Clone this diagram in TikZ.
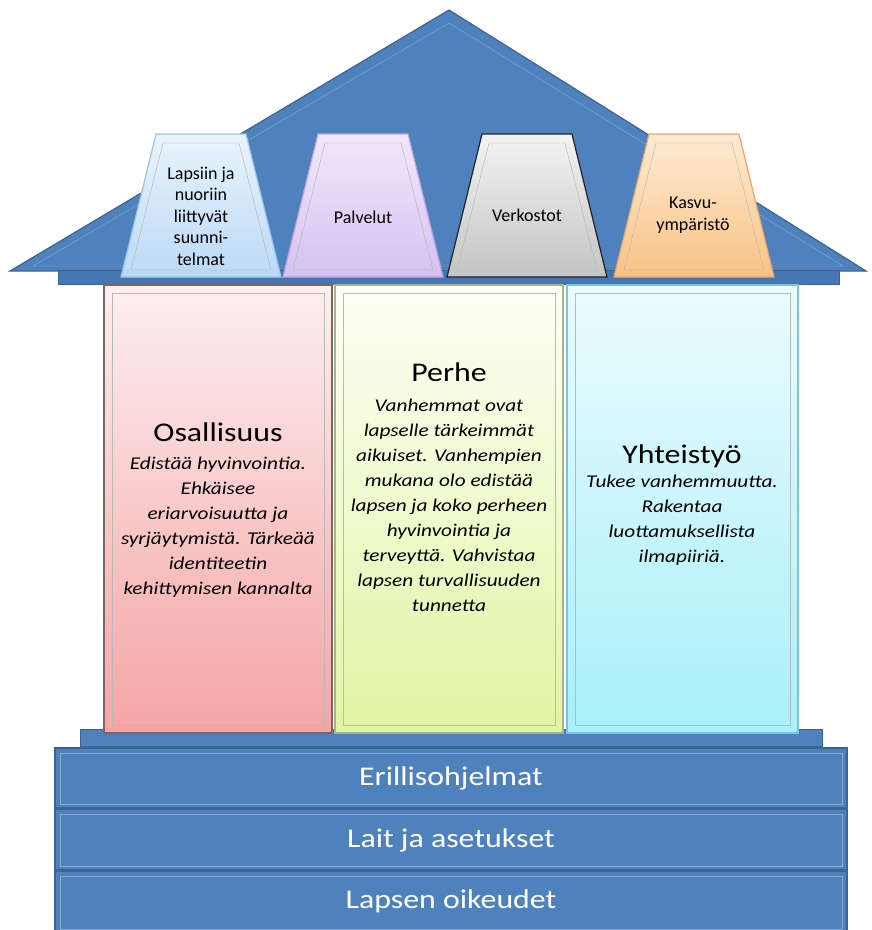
\documentclass[tikz,border=0pt]{standalone}
\usepackage{fontspec}
\setmainfont{Carlito}
\newfontfamily\wideFont[FakeStretch=1.18]{Carlito}
\definecolor{roofBlue}{HTML}{4F81BD}
\definecolor{roofEdge}{HTML}{3A6497}
\definecolor{roofLight}{HTML}{86A9D6}
\definecolor{eaveBlue}{HTML}{4677B3}
\definecolor{capBlueTop}{HTML}{EAF4FD}
\definecolor{capBlueBot}{HTML}{BBD9F5}
\definecolor{capBlueEdge}{HTML}{9CC3EA}
\definecolor{capLilacTop}{HTML}{F1E8FB}
\definecolor{capLilacBot}{HTML}{D5C1F1}
\definecolor{capLilacEdge}{HTML}{BCA5DF}
\definecolor{capGreyTop}{HTML}{F3F3F3}
\definecolor{capGreyBot}{HTML}{C4C4C4}
\definecolor{capGreyEdge}{HTML}{222222}
\definecolor{capOrangeTop}{HTML}{FEEBD3}
\definecolor{capOrangeBot}{HTML}{F9C285}
\definecolor{capOrangeEdge}{HTML}{EAA765}
\definecolor{pinkTop}{HTML}{FDEFF0}
\definecolor{pinkBot}{HTML}{F5A4A4}
\definecolor{pinkEdge}{HTML}{7D6565}
\definecolor{limeTop}{HTML}{FEFFF6}
\definecolor{limeBot}{HTML}{E2F4A4}
\definecolor{limeEdge}{HTML}{A7B58A}
\definecolor{cyanTop}{HTML}{EAFCFE}
\definecolor{cyanBot}{HTML}{A9EFF9}
\definecolor{cyanEdge}{HTML}{7DC3DA}
\tikzset{
  capText/.style={align=center, font=\fontsize{18}{21.5}\selectfont},
  headText/.style={font=\wideFont\fontsize{27}{30}\selectfont},
  bodyText/.style={align=center, anchor=north, font=\wideFont\itshape\fontsize{18}{25}\selectfont},
  baseText/.style={text=white, font=\wideFont\fontsize{27}{30}\selectfont}
}
\def\drawCapital#1#2#3#4{
\draw[draw=#4, line width=1.2pt, top color=#2, bottom color=#3] (#1-45,134) -- (#1+45,134) -- (#1+80,277) -- (#1-80,277) -- cycle;
\draw[gray!60] (#1-38,143) -- (#1+38,143) -- (#1+70,270) -- (#1-70,270) -- cycle;
}
\def\drawPillar#1#2#3#4#5{
\draw[draw=#5, line width=1.5pt, top color=#3, bottom color=#4] (#1,285) rectangle (#2,733);
\draw[gray!55] (#1+8,293) rectangle (#2-8,725);
}
\def\drawStep#1#2{
\draw[draw=roofEdge, line width=1.5pt, fill=roofBlue] (55,#1) rectangle (847,#2);
\draw[roofLight] (60,#1+5) rectangle (842,#2-4);
}

\begin{document}
\begin{tikzpicture}[x=1pt,y=-1pt]
  \useasboundingbox (0,0) rectangle (872,930);
  \coordinate (R1) at (449,10);
  \coordinate (R2) at (10,271);
  \coordinate (R3) at (866,271);
  \draw[draw=roofEdge, line width=1.2pt, fill=roofBlue] (R1) -- (R2) -- (R3) -- cycle;
  \draw[roofLight] (449,23) -- (33,266) -- (843,266) -- cycle;
  \draw[draw=roofEdge, fill=eaveBlue] (58,270) rectangle (839,284);
  \drawCapital{201}{capBlueTop}{capBlueBot}{capBlueEdge}
  \drawCapital{363}{capLilacTop}{capLilacBot}{capLilacEdge}
  \drawCapital{527}{capGreyTop}{capGreyBot}{capGreyEdge}
  \drawCapital{694}{capOrangeTop}{capOrangeBot}{capOrangeEdge}
  \node[capText] (lapsiin) at (201,216) {Lapsiin ja\\nuoriin\\liittyvät\\suunni-\\telmat};
  \node[capText] (palvelut) at (363,217) {Palvelut};
  \node[capText] (verkostot) at (527,215) {Verkostot};
  \node[capText] (kasvu) at (693,215) {Kasvu-\\ympäristö};
  \draw[draw=roofEdge, fill=roofBlue] (80,729) rectangle (822,746);
  \drawPillar{104}{332}{pinkTop}{pinkBot}{pinkEdge}
  \drawPillar{335}{563}{limeTop}{limeBot}{limeEdge}
  \drawPillar{567}{798}{cyanTop}{cyanBot}{cyanEdge}
  \node[headText] (osallisuus) at (218,432) {Osallisuus};
  \node[bodyText] (osallisuusText) at (218,453) {Edistää hyvinvointia.\\Ehkäisee\\eriarvoisuutta ja\\syrjäytymistä. Tärkeää\\identiteetin\\kehittymisen kannalta};
  \node[headText] (perhe) at (449,372) {Perhe};
  \node[bodyText] (perheText) at (449,395) {Vanhemmat ovat\\lapselle tärkeimmät\\aikuiset. Vanhempien\\mukana olo edistää\\lapsen ja koko perheen\\hyvinvointia ja\\terveyttä. Vahvistaa\\lapsen turvallisuuden\\tunnetta};
  \node[headText] (yhteistyo) at (682,456) {Yhteistyö};
  \node[bodyText] (yhteistyoText) at (682,471) {Tukee vanhemmuutta.\\Rakentaa\\luottamuksellista\\ilmapiiriä.};
  \drawStep{748}{808}
  \drawStep{809}{870}
  \drawStep{871}{933}
  \node[baseText] (erillis) at (451,778) {Erillisohjelmat};
  \node[baseText] (lait) at (451,840) {Lait ja asetukset};
  \node[baseText] (oikeudet) at (451,901) {Lapsen oikeudet};
\end{tikzpicture}
\end{document}
